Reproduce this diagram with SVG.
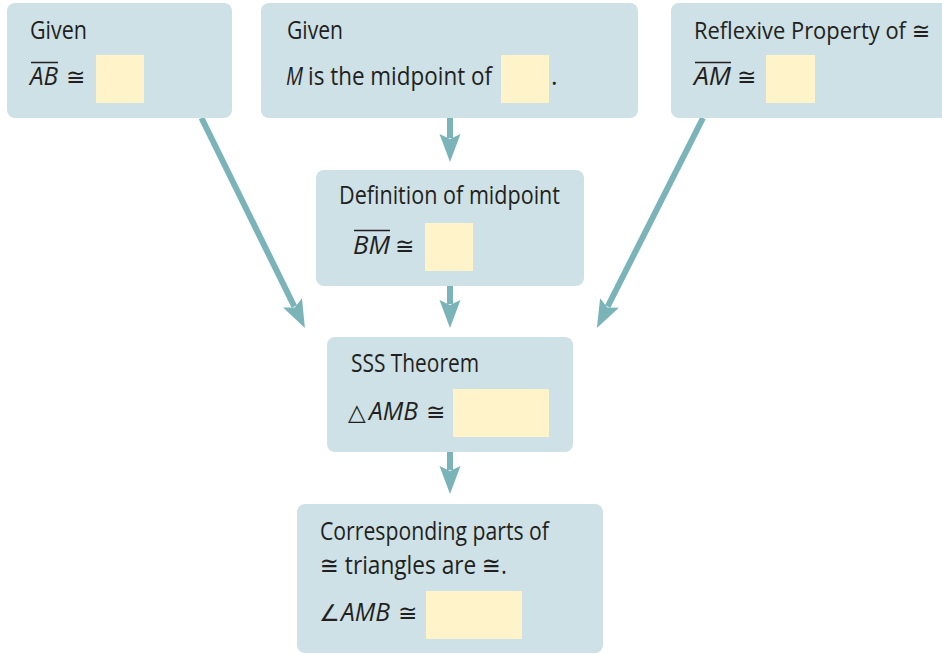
<svg xmlns="http://www.w3.org/2000/svg" width="942" height="654" viewBox="0 0 942 654">
  <style>
    .box { fill: #cde1e6; }
    .blank { fill: #fff3c9; }
    .t { font-family: "Open Sans", "DejaVu Sans", sans-serif; font-size: 25px; fill: #231f20; }
    .s { font-size: 23px; }
    .i { font-style: italic; }
    .bar { stroke: #231f20; stroke-width: 1.5; }
    .conn { stroke: #7ab3b8; stroke-width: 6; fill: none; marker-end: url(#head); }
  </style>
  <defs>
    <marker id="head" markerUnits="userSpaceOnUse" viewBox="-6 -12 32 24" refX="0" refY="0" markerWidth="32" markerHeight="24" orient="auto">
      <path d="M24,0 L-4,-10.5 L1,0 L-4,10.5 Z" fill="#7ab3b8"/>
    </marker>
  </defs>
  <rect width="942" height="654" fill="#ffffff"/>

  <g id="connectors">
    <line class="conn" x1="450" y1="118" x2="450" y2="138"/>
    <line class="conn" x1="450" y1="286" x2="450" y2="304"/>
    <line class="conn" x1="450" y1="452" x2="450" y2="470"/>
    <line class="conn" x1="201.5" y1="118" x2="294.3" y2="306.5"/>
    <line class="conn" x1="703" y1="118" x2="607.7" y2="306.5"/>
  </g>

  <g id="given-ab">
    <rect class="box" x="7" y="3" width="225" height="115" rx="8"/>
    <text class="t" x="30" y="39" textLength="57" lengthAdjust="spacingAndGlyphs">Given</text>
    <text class="t i" x="30" y="85" textLength="28" lengthAdjust="spacingAndGlyphs">AB</text>
    <line class="bar" x1="31" y1="62.5" x2="58" y2="62.5"/>
    <text class="t s" x="66" y="85">≅</text>
    <rect class="blank" x="96" y="55" width="48" height="48"/>
  </g>

  <g id="given-midpoint">
    <rect class="box" x="261" y="3" width="377" height="115" rx="8"/>
    <text class="t" x="287" y="39" textLength="56" lengthAdjust="spacingAndGlyphs">Given</text>
    <text class="t i" x="286" y="85" textLength="17" lengthAdjust="spacingAndGlyphs">M</text>
    <text class="t" x="308" y="85" textLength="184" lengthAdjust="spacingAndGlyphs">is the midpoint of</text>
    <rect class="blank" x="501" y="55" width="48" height="48"/>
    <text class="t" x="551" y="85">.</text>
  </g>

  <!-- this box runs past the right edge of the canvas -->
  <g id="reflexive">
    <path class="box" d="M679,3 H942 V118 H679 A8,8 0 0 1 671,110 V11 A8,8 0 0 1 679,3 Z"/>
    <text class="t s" x="694" y="39" textLength="236" lengthAdjust="spacingAndGlyphs">Reflexive Property of ≅</text>
    <text class="t i" x="694" y="85" textLength="37" lengthAdjust="spacingAndGlyphs">AM</text>
    <line class="bar" x1="695" y1="62.5" x2="731" y2="62.5"/>
    <text class="t s" x="737" y="85">≅</text>
    <rect class="blank" x="766" y="55" width="49" height="48"/>
  </g>

  <g id="def-midpoint">
    <rect class="box" x="316" y="170" width="268" height="116" rx="8"/>
    <text class="t" x="339" y="204" textLength="221" lengthAdjust="spacingAndGlyphs">Definition of midpoint</text>
    <text class="t i" x="353" y="254" textLength="37" lengthAdjust="spacingAndGlyphs">BM</text>
    <line class="bar" x1="354" y1="230.5" x2="390" y2="230.5"/>
    <text class="t s" x="395" y="254">≅</text>
    <rect class="blank" x="425" y="223" width="48" height="48"/>
  </g>

  <g id="sss">
    <rect class="box" x="327" y="337" width="246" height="115" rx="8"/>
    <text class="t" x="351" y="372" textLength="128" lengthAdjust="spacingAndGlyphs">SSS Theorem</text>
    <text class="t s" x="348" y="420">△</text>
    <text class="t i" x="369" y="420" textLength="49" lengthAdjust="spacingAndGlyphs">AMB</text>
    <text class="t s" x="426" y="420">≅</text>
    <rect class="blank" x="453" y="389" width="96" height="48"/>
  </g>

  <g id="cpctc">
    <rect class="box" x="297" y="504" width="306" height="149" rx="8"/>
    <text class="t" x="320" y="540" textLength="229" lengthAdjust="spacingAndGlyphs">Corresponding parts of</text>
    <text class="t" x="320" y="574" textLength="187" lengthAdjust="spacingAndGlyphs">≅ triangles are ≅.</text>
    <text class="t s" x="319" y="621">∠</text>
    <text class="t i" x="341" y="621" textLength="49" lengthAdjust="spacingAndGlyphs">AMB</text>
    <text class="t s" x="398" y="621">≅</text>
    <rect class="blank" x="426" y="591" width="96" height="48"/>
  </g>
</svg>
